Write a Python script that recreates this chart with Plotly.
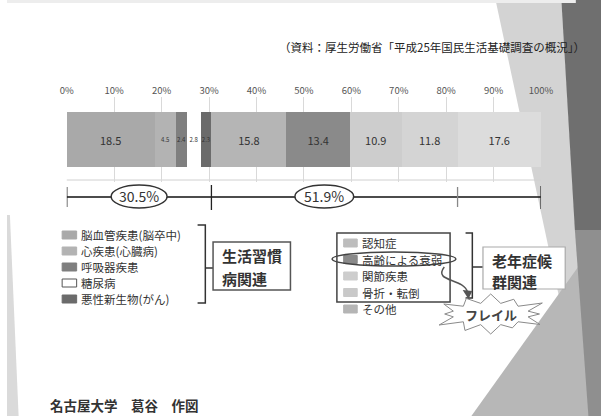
import math
import plotly.graph_objects as go

# 要介護の主な原因（平成25年国民生活基礎調査）, 単位 %
lifestyle_labels = ["脳血管疾患(脳卒中)", "心疾患(心臓病)", "呼吸器疾患", "糖尿病", "悪性新生物(がん)"]
lifestyle_values = [18.5, 4.5, 2.4, 2.8, 2.3]
lifestyle_colors = ["#a9a9a9", "#b3b3b3", "#7f7f7f", "#ffffff", "#6b6b6b"]

geriatric_labels = ["認知症", "高齢による衰弱", "関節疾患", "骨折・転倒"]
geriatric_values = [15.8, 13.4, 10.9, 11.8]
geriatric_colors = ["#b5b5b5", "#8a8a8a", "#cdcdcd", "#d4d4d4"]

other_labels = ["その他"]
other_values = [17.6]
other_colors = ["#dcdcdc"]

tick_values = [0, 10, 20, 30, 40, 50, 60, 70, 80, 90, 100]
tick_labels = ["0%", "10%", "20%", "30%", "40%", "50%", "60%", "70%", "80%", "90%", "100%"]

group_titles = ["生活習慣", "病関連", "老年症候", "群関連"]
source_text = "（資料：厚生労働省「平成25年国民生活基礎調査の概況」）"
credit_text = "名古屋大学　葛谷　作図"
frailty_text = "フレイル"

FONT = "Noto Sans CJK JP"
W, H = 614, 416


def px(x):
    return x / W


def py(y):
    return 1 - y / H


def label(x, y, text, size, color="#333333", bold=False, xanchor="left"):
    f = dict(family=FONT, size=size, color=color)
    if bold:
        f["weight"] = "bold"
    return dict(x=px(x), y=py(y), xref="paper", yref="paper", text=text, showarrow=False,
                xanchor=xanchor, yanchor="middle", font=f, borderpad=0)


fig = go.Figure()

labels = lifestyle_labels + geriatric_labels + other_labels
values = lifestyle_values + geriatric_values + other_values
colors = lifestyle_colors + geriatric_colors + other_colors

for lab, val, col in zip(labels, values, colors):
    fig.add_trace(go.Bar(
        y=[""], x=[val], name=lab, orientation="h",
        marker=dict(color=col, line=dict(width=0)),
        text=[f"{val:.1f}"], textposition="inside", insidetextanchor="middle",
        constraintext="none",
        textfont=dict(family=FONT, size=11 if val >= 10 else 6, color="#333333"),
        hoverinfo="skip", showlegend=False,
    ))

shapes = []
annotations = []


def poly(points, color, layer="below", line=None):
    path = "M " + " L ".join(f"{px(x):.5f},{py(y):.5f}" for x, y in points) + " Z"
    return dict(type="path", path=path, xref="paper", yref="paper",
                fillcolor=color, line=line or dict(width=0), layer=layer)


# slide decoration
shapes.append(poly([(0, 215), (3, 215), (12, 416), (0, 416)], "#dadada"))
shapes.append(poly([(505, 0), (573, 0), (600, 416), (597, 416)], "#d3d3d3"))
shapes.append(poly([(480, 416), (614, 235), (614, 416)], "#b7b7b7"))
shapes.append(poly([(573, 0), (614, 0), (614, 230), (587, 230)], "#6f6f6f", layer="above"))
shapes.append(poly([(587, 230), (614, 230), (614, 416), (601, 416)], "#8f8f8f", layer="above"))
shapes.append(dict(type="rect", xref="paper", yref="paper", x0=0, x1=px(588), y0=py(3), y1=1,
                   fillcolor="#ededed", line=dict(width=0), layer="above"))

# plot-area bottom rule
shapes.append(dict(type="line", xref="paper", yref="paper", x0=px(61.8), x1=px(552),
                   y0=py(180), y1=py(180), line=dict(color="#d0d0d0", width=1), layer="below"))

# group bracket below the bar
sum_life = sum(lifestyle_values)
sum_geri = sum(geriatric_values)
edges = [0, sum_life, sum_life + sum_geri, 100]
line_y = 197
shapes.append(dict(type="line", xref="x", yref="paper", x0=0, x1=100, y0=py(line_y), y1=py(line_y),
                   line=dict(color="#111111", width=1.5)))
for e, (t, b, c) in zip(edges, [(187, 207, "#222"), (185, 210, "#222"), (187, 207, "#888"), (186, 209, "#333")]):
    shapes.append(dict(type="line", xref="x", yref="paper", x0=e, x1=e, y0=py(t), y1=py(b),
                       line=dict(color=c, width=1.3)))

for center, total, half in [(sum_life / 2, sum_life, 5.9), (54.3, sum_geri, 6.2)]:
    shapes.append(dict(type="circle", xref="x", yref="paper", x0=center - half, x1=center + half,
                       y0=py(208), y1=py(185), fillcolor="#ffffff", line=dict(color="#333333", width=1.5)))
    annotations.append(dict(x=center, y=py(196.5), xref="x", yref="paper", text=f"{total:.1f}%",
                            showarrow=False, yanchor="middle",
                            font=dict(family=FONT, size=14, color="#333333")))

# left legend
left_rows = [235, 251, 267, 283, 299]
for lab, col, yy in zip(lifestyle_labels, lifestyle_colors, left_rows):
    shapes.append(dict(type="rect", xref="paper", yref="paper", x0=px(57), x1=px(72),
                       y0=py(yy + 4), y1=py(yy - 4), fillcolor=col,
                       line=dict(color="#555555" if col == "#ffffff" else col, width=1)))
    annotations.append(label(75, yy, lab, 11.5))

# left bracket and box
bl = dict(color="#333333", width=1.5)
shapes.append(dict(type="path", xref="paper", yref="paper",
                   path=f"M {px(197)},{py(225)} L {px(205)},{py(225)} L {px(205)},{py(303)} L {px(197)},{py(303)}",
                   line=bl))
shapes.append(dict(type="line", xref="paper", yref="paper", x0=px(205), x1=px(213), y0=py(268), y1=py(268), line=bl))
shapes.append(dict(type="rect", xref="paper", yref="paper", x0=px(213), x1=px(293), y0=py(290), y1=py(242),
                   fillcolor="#ffffff", line=dict(color="#555555", width=1.5)))
annotations.append(label(221, 255, group_titles[0], 15, bold=True))
annotations.append(label(221, 278, group_titles[1], 15, bold=True))

# right legend
right_labels = geriatric_labels + other_labels
right_colors = ["#bdbdbd", "#8a8a8a", "#cdcdcd", "#c9c9c9", "#b5b5b5"]
right_rows = [243, 259.5, 276, 292.5, 309]
for lab, col, yy in zip(right_labels, right_colors, right_rows):
    shapes.append(dict(type="rect", xref="paper", yref="paper", x0=px(348), x1=px(362),
                       y0=py(yy + 4), y1=py(yy - 4), fillcolor=col, line=dict(color=col, width=1)))
    annotations.append(label(366, yy, lab, 11.5))

shapes.append(dict(type="rect", xref="paper", yref="paper", x0=px(341), x1=px(458), y0=py(302), y1=py(233),
                   line=dict(color="#444444", width=1.5)))
shapes.append(dict(type="circle", xref="paper", yref="paper", x0=px(336), x1=px(464), y0=py(266), y1=py(252),
                   line=dict(color="#444444", width=1.5)))
shapes.append(dict(type="path", xref="paper", yref="paper",
                   path=f"M {px(474)},{py(233)} L {px(481)},{py(233)} L {px(481)},{py(298)} L {px(474)},{py(298)}",
                   line=bl))
shapes.append(dict(type="line", xref="paper", yref="paper", x0=px(481), x1=px(492), y0=py(267), y1=py(267), line=bl))
shapes.append(dict(type="rect", xref="paper", yref="paper", x0=px(492), x1=px(577), y0=py(289), y1=py(247),
                   fillcolor="#ffffff", line=dict(color="#aaaaaa", width=1.2)))
annotations.append(label(500, 260, group_titles[2], 15, bold=True))
annotations.append(label(500, 281, group_titles[3], 15, bold=True))

# burst label with arrow
cx, cy, n = 500, 314, 12
jag = [1.0, 0.85, 1.1, 0.9, 1.05, 0.8, 1.0, 0.95, 1.1, 0.85, 1.0, 0.9]
pts = []
for i in range(2 * n):
    a = -math.pi / 2 + i * math.pi / n
    if i % 2 == 0:
        k = jag[i // 2]
        rx, ry = 56 * k, 20 * k
    else:
        rx, ry = 40, 11
    pts.append((cx + rx * math.cos(a), cy + ry * math.sin(a)))
shapes.append(poly(pts, "#ffffff", layer="above", line=dict(color="#8a8a8a", width=1)))
shapes.append(dict(type="path", xref="paper", yref="paper",
                   path=f"M {px(452)},{py(267)} C {px(440)},{py(282)} {px(472)},{py(278)} {px(476)},{py(292)}",
                   line=dict(color="#555555", width=1.5)))
shapes.append(poly([(471, 290), (481, 291), (477, 299)], "#555555", layer="above"))
annotations.append(label(cx, cy, frailty_text, 13, color="#444444", bold=True, xanchor="center"))

# source and credit
annotations.append(label(598, 47, source_text, 11.5, color="#222222", xanchor="right"))
annotations.append(label(43, 405, credit_text, 13.5, bold=True))

fig.update_layout(
    width=W, height=H, margin=dict(l=0, r=0, t=0, b=0),
    paper_bgcolor="#ffffff", plot_bgcolor="rgba(0,0,0,0)",
    barmode="stack", bargap=0.353,
    xaxis=dict(domain=[px(61.8), px(552)], range=[0, 100], side="top",
               tickmode="array", tickvals=tick_values, ticktext=tick_labels,
               tickfont=dict(family=FONT, size=9.5, color="#555555"),
               showgrid=True, gridcolor="#d9d9d9", gridwidth=1, zeroline=False,
               showline=False, ticks="", fixedrange=True),
    yaxis=dict(domain=[py(182), py(97)], showticklabels=False, showgrid=False,
               zeroline=False, showline=False, fixedrange=True),
    shapes=shapes, annotations=annotations,
    font=dict(family=FONT),
)

fig.write_html("out.html")
